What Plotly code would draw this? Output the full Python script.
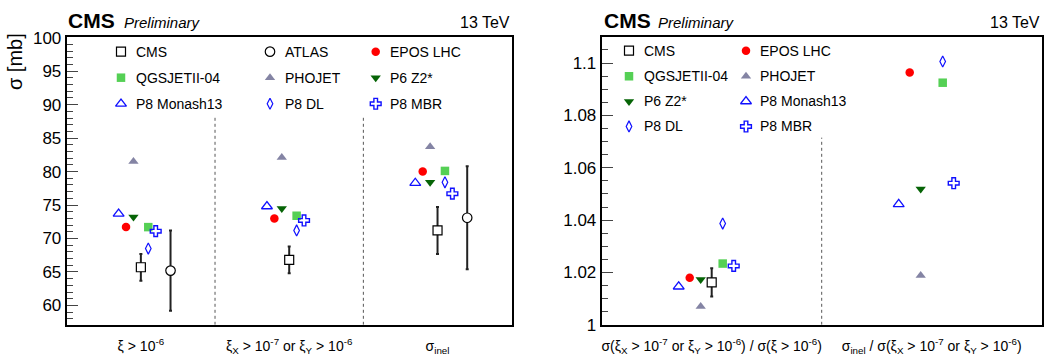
import plotly.graph_objects as go

W, H = 1058, 362

# ---------------- data ----------------
left_categories = [
    "ξ > 10<sup>-6</sup>",
    "ξ<sub>X</sub> > 10<sup>-7</sup> or ξ<sub>Y</sub> > 10<sup>-6</sup>",
    "σ<sub>inel</sub>",
]
right_categories = [
    "σ(ξ<sub>X</sub> > 10<sup>-7</sup> or ξ<sub>Y</sub> > 10<sup>-6</sup>) / σ(ξ > 10<sup>-6</sup>)",
    "σ<sub>inel</sub> / σ(ξ<sub>X</sub> > 10<sup>-7</sup> or ξ<sub>Y</sub> > 10<sup>-6</sup>)",
]
left_ticks = [60, 65, 70, 75, 80, 85, 90, 95, 100]
right_ticks = [1.0, 1.02, 1.04, 1.06, 1.08, 1.1]

cms_left = [65.7, 66.8, 71.2]
cms_left_err = [2.0, 2.0, 3.5]
atlas_left = [65.2, None, 73.1]
atlas_left_err = [6.0, 0, 7.7]
epos_left = [71.7, 73.0, 80.0]
qgsjet_left = [71.7, 73.4, 80.1]
phojet_left = [81.5, 82.1, 83.7]
p6z2_left = [73.2, 74.5, 78.4]
monash_left = [73.7, 74.8, 78.3]
p8dl_left = [68.5, 71.2, 78.4]
p8mbr_left = [71.1, 72.7, 76.7]

cms_right = [1.0162, None]
cms_right_err = [0.0054, 0]
epos_right = [1.0180, 1.0964]
qgsjet_right = [1.0234, 1.0925]
phojet_right = [1.0070, 1.0188]
p6z2_right = [1.0173, 1.0519]
monash_right = [1.0146, 1.0461]
p8dl_right = [1.0387, 1.1006]
p8mbr_right = [1.0225, 1.0541]

# ---------------- styles ----------------
BLUE = "#1010ff"
styles = {
    "CMS": dict(symbol="square", color="black", fill="white", size=9, lw=1.2, off=0.0),
    "ATLAS": dict(symbol="circle", color="black", fill="white", size=9.5, lw=1.2, off=0.2),
    "EPOS LHC": dict(symbol="circle", color="#ff0000", size=8.5, lw=0, off=-0.1),
    "QGSJETII-04": dict(symbol="square", color="#55d055", size=8.5, lw=0, off=0.05),
    "PHOJET": dict(symbol="triangle-up", color="#8484a4", size=9, lw=0, off=-0.05),
    "P6 Z2*": dict(symbol="triangle-down", color="#066406", size=9, lw=0, off=-0.05),
    "P8 Monash13": dict(symbol="triangle-up-open", color=BLUE, size=9.5, lw=1.3, off=-0.15),
    "P8 DL": dict(symbol="diamond-tall-open", color=BLUE, size=8, lw=1.2, off=0.05),
    "P8 MBR": dict(symbol="cross-open", color=BLUE, size=9, lw=1.4, off=0.1),
}

left_series = {
    "CMS": (cms_left, cms_left_err),
    "ATLAS": (atlas_left, atlas_left_err),
    "EPOS LHC": (epos_left, None),
    "QGSJETII-04": (qgsjet_left, None),
    "PHOJET": (phojet_left, None),
    "P6 Z2*": (p6z2_left, None),
    "P8 Monash13": (monash_left, None),
    "P8 DL": (p8dl_left, None),
    "P8 MBR": (p8mbr_left, None),
}
right_series = {
    "CMS": (cms_right, cms_right_err),
    "EPOS LHC": (epos_right, None),
    "QGSJETII-04": (qgsjet_right, None),
    "PHOJET": (phojet_right, None),
    "P6 Z2*": (p6z2_right, None),
    "P8 Monash13": (monash_right, None),
    "P8 DL": (p8dl_right, None),
    "P8 MBR": (p8mbr_right, None),
}

fig = go.Figure()


def marker_of(st):
    return dict(symbol=st["symbol"], color=st.get("fill", st["color"]), size=st["size"],
                line=dict(color=st["color"], width=st["lw"]))


def add_series(series, xa, ya):
    for name, (vals, errs) in series.items():
        st = styles[name]
        xs, ys, es = [], [], []
        for i, v in enumerate(vals):
            if v is None:
                continue
            xs.append(i + 0.5 + st["off"])
            ys.append(v)
            if errs is not None:
                es.append(errs[i])
        tr = dict(x=xs, y=ys, mode="markers", name=name, showlegend=False,
                  marker=marker_of(st), xaxis=xa, yaxis=ya, cliponaxis=False)
        if errs is not None:
            tr["error_y"] = dict(type="data", array=es, visible=True,
                                 color="#222222", thickness=2, width=1.5)
        fig.add_trace(go.Scatter(**tr))


add_series(left_series, "x", "y")
add_series(right_series, "x2", "y2")

# ---------------- layout geometry ----------------
def px_x(p):
    return p / W


def px_y(p):
    return 1 - p / H


top, bottom = 30, 333.3
font_family = "Liberation Sans, Arial, Helvetica, sans-serif"

axis_common = dict(showline=True, linewidth=2, linecolor="black", mirror=True,
                   zeroline=False, showgrid=False)

fig.update_layout(
    width=W, height=H, margin=dict(l=0, r=0, t=0, b=0),
    paper_bgcolor="white", plot_bgcolor="rgba(0,0,0,0)",
    font=dict(family=font_family, color="black"),
    showlegend=False,
    xaxis=dict(domain=[px_x(66.7), px_x(511.7)], range=[0, 3], anchor="y",
               tickmode="array", tickvals=[0.5, 1.5, 2.5], ticktext=left_categories,
               ticks="", tickfont=dict(size=14), ticklabelstandoff=7, **axis_common),
    yaxis=dict(domain=[px_y(bottom), px_y(top)], range=[57.1, 100.05], anchor="x",
               tickmode="array", tickvals=left_ticks, ticks="inside", ticklen=11,
               tickwidth=1, tickfont=dict(size=17),
               minor=dict(dtick=1, ticks="inside", ticklen=6, tickwidth=1, showgrid=False),
               **axis_common),
    xaxis2=dict(domain=[px_x(601.7), px_x(1041.7)], range=[0, 2], anchor="y2",
                tickmode="array", tickvals=[0.5, 1.5], ticktext=right_categories,
                ticks="", tickfont=dict(size=14), ticklabelstandoff=7, **axis_common),
    yaxis2=dict(domain=[px_y(bottom), px_y(top)], range=[1.0, 1.1098], anchor="x2",
                tickmode="array", tickvals=right_ticks, ticks="inside", ticklen=11,
                tickwidth=1, tickfont=dict(size=17),
                minor=dict(dtick=0.005, tick0=1.0, ticks="inside", ticklen=6, tickwidth=1,
                           showgrid=False),
                **axis_common),
    xaxis3=dict(domain=[0, 1], range=[0, W], anchor="y3", visible=False, fixedrange=True),
    yaxis3=dict(domain=[0, 1], range=[H, 0], anchor="x3", visible=False, fixedrange=True),
)

# category dividers (dotted)
fig.add_shape(type="line", xref="x", yref="y", x0=1, x1=1, y0=57.1, y1=88.2,
              line=dict(color="#555555", width=1, dash="dot"))
fig.add_shape(type="line", xref="x", yref="y", x0=2, x1=2, y0=57.1, y1=88.2,
              line=dict(color="#555555", width=1, dash="dot"))
fig.add_shape(type="line", xref="x2", yref="y2", x0=1, x1=1, y0=1.0, y1=1.0715,
              line=dict(color="#555555", width=1, dash="dot"))

# ---------------- legends (manual, pixel positioned) ----------------
left_legend = [["CMS", "ATLAS", "EPOS LHC"],
               ["QGSJETII-04", "PHOJET", "P6 Z2*"],
               ["P8 Monash13", "P8 DL", "P8 MBR"]]
left_rows = [45, 72.5, 100]
left_mx = [121, 270, 375.7]
left_tx = [134, 283, 388]

right_legend = [["CMS", "EPOS LHC"],
                ["QGSJETII-04", "PHOJET"],
                ["P6 Z2*", "P8 Monash13"],
                ["P8 DL", "P8 MBR"]]
right_rows = [44, 71, 97.5, 124]
right_mx = [629, 746]
right_tx = [641.5, 757.5]


def add_legend(grid, rows, mxs, txs):
    for r, row in enumerate(grid):
        for c, name in enumerate(row):
            st = styles[name]
            fig.add_trace(go.Scatter(x=[mxs[c]], y=[rows[r]], mode="markers",
                                     marker=marker_of(st), xaxis="x3", yaxis="y3",
                                     showlegend=False, hoverinfo="skip", cliponaxis=False))
            fig.add_annotation(x=px_x(txs[c]), y=px_y(rows[r]), xref="paper", yref="paper",
                               text=name, showarrow=False, xanchor="left", yanchor="middle",
                               font=dict(size=14, family=font_family, color="black"))


add_legend(left_legend, left_rows, left_mx, left_tx)
add_legend(right_legend, right_rows, right_mx, right_tx)

# ---------------- titles ----------------
for x0, xp, xr in [(66, 121.5, 512), (602, 655.5, 1042)]:
    fig.add_annotation(x=px_x(x0), y=px_y(26), xref="paper", yref="paper",
                       text="<b>CMS</b>", showarrow=False, xanchor="left", yanchor="bottom",
                       font=dict(size=21, family=font_family, color="black"))
    fig.add_annotation(x=px_x(xp), y=px_y(25), xref="paper", yref="paper",
                       text="<i>Preliminary</i>", showarrow=False, xanchor="left",
                       yanchor="bottom", font=dict(size=15, family=font_family, color="black"))
    fig.add_annotation(x=px_x(xr), y=px_y(25), xref="paper", yref="paper",
                       text="13 TeV", showarrow=False, xanchor="right", yanchor="bottom",
                       font=dict(size=16, family=font_family, color="black"))

fig.add_annotation(x=px_x(15), y=px_y(56), xref="paper", yref="paper",
                   text="σ [mb]", showarrow=False, textangle=-90,
                   xanchor="center", yanchor="middle",
                   font=dict(size=20, family=font_family, color="black"))

fig.write_html("out.html")
